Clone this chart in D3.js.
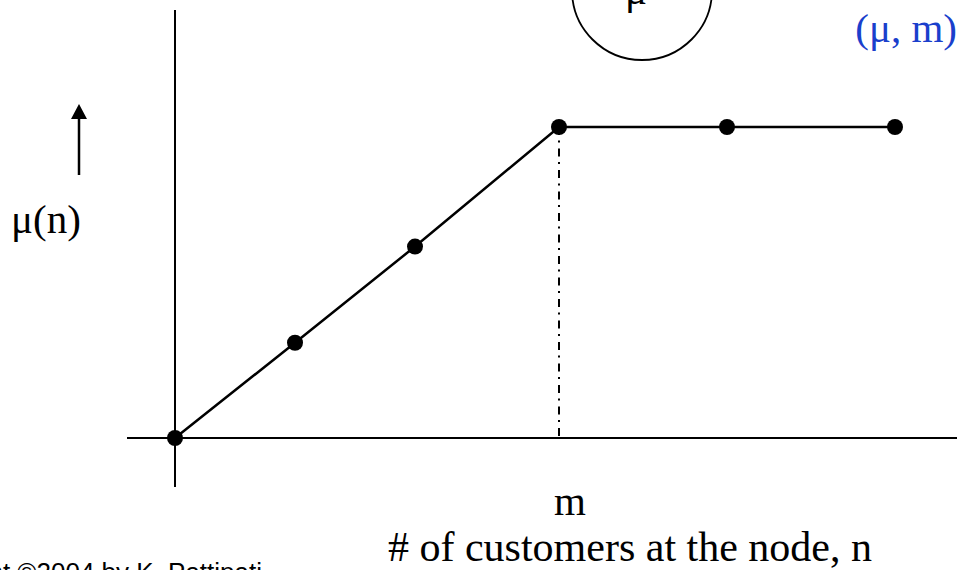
<!DOCTYPE html>
<html>
<head>
<meta charset="utf-8">
<script src="https://cdn.jsdelivr.net/npm/d3@7"></script>
<style>
    body { margin: 0; background: white; }
    svg { display: block; }
</style>
</head>
<body>
<div id="chart"></div>
<script>

// number of customers at the node (m sits at 3.2)
let customers = [0, 1, 2, 3.2, 4.6, 6.0]
// service rate mu(n)
let serviceRate = [0, 0.98, 1.97, 3.2, 3.2, 3.2]
let mValue = 3.2

let width = 957, height = 570

let svg = d3.select("#chart").append("svg")
    .attr("width", width)
    .attr("height", height)

// Scales
let x = d3.scaleLinear()
    .domain([0, 6])
    .range([175, 895])

let y = d3.scaleLinear()
    .domain([0, 3.2])
    .range([438, 127])

let data = customers.map((c, i) => ({n: c, mu: serviceRate[i]}))

// axes (plain lines, no ticks)
svg.append("line")
    .attr("x1", x(0)).attr("x2", x(0))
    .attr("y1", 10).attr("y2", 487)
    .attr("stroke", "black")
    .attr("stroke-width", 2)

svg.append("line")
    .attr("x1", 127).attr("x2", width)
    .attr("y1", y(0)).attr("y2", y(0))
    .attr("stroke", "black")
    .attr("stroke-width", 2)

// dash-dot drop line at m
svg.append("line")
    .attr("x1", x(mValue)).attr("x2", x(mValue))
    .attr("y1", y(mValue)).attr("y2", y(0))
    .attr("stroke", "black")
    .attr("stroke-width", 2)
    .attr("stroke-dasharray", "8,5.5,2,6")

// the line
let line = d3.line()
    .x(d => x(d.n))
    .y(d => y(d.mu))

svg.append("path")
    .datum(data)
    .attr("fill", "none")
    .attr("stroke", "black")
    .attr("stroke-width", 2.5)
    .attr("d", line)

svg.selectAll(".pt")
    .data(data)
    .enter()
    .append("circle")
    .attr("class", "pt")
    .attr("cx", d => x(d.n))
    .attr("cy", d => y(d.mu))
    .attr("r", 8)
    .attr("fill", "black")

// up arrow next to the y label
svg.append("line")
    .attr("x1", 79).attr("x2", 79)
    .attr("y1", 175).attr("y2", 115)
    .attr("stroke", "black")
    .attr("stroke-width", 2.5)

svg.append("path")
    .attr("d", "M79,104 L87,119 L71,119 Z")
    .attr("fill", "black")

let serif = "'Liberation Serif', 'Times New Roman', serif"

svg.append("text")
    .attr("x", 46).attr("y", 233)
    .attr("text-anchor", "middle")
    .style("font-family", serif)
    .style("font-size", "41px")
    .text("μ(n)")

svg.append("text")
    .attr("x", 570).attr("y", 515)
    .attr("text-anchor", "middle")
    .style("font-family", serif)
    .style("font-size", "41px")
    .text("m")

svg.append("text")
    .attr("x", 630).attr("y", 561)
    .attr("text-anchor", "middle")
    .style("font-family", serif)
    .style("font-size", "42px")
    .text("# of customers at the node, n")

// server circle at the top
svg.append("circle")
    .attr("cx", 642).attr("cy", -10)
    .attr("r", 70)
    .attr("fill", "none")
    .attr("stroke", "black")
    .attr("stroke-width", 1.8)

svg.append("text")
    .attr("x", 636).attr("y", 4)
    .attr("text-anchor", "middle")
    .style("font-family", serif)
    .style("font-size", "41px")
    .text("μ")

svg.append("text")
    .attr("x", 957).attr("y", 42)
    .attr("text-anchor", "end")
    .style("font-family", serif)
    .style("font-size", "41px")
    .attr("fill", "#1a3fcc")
    .text("(μ, m)")

svg.append("text")
    .attr("x", 262).attr("y", 581)
    .attr("text-anchor", "end")
    .style("font-family", "'Liberation Sans', Arial, sans-serif")
    .style("font-size", "26px")
    .text("Copyright ©2004 by K. Pattipati")

</script>
</body>
</html>
